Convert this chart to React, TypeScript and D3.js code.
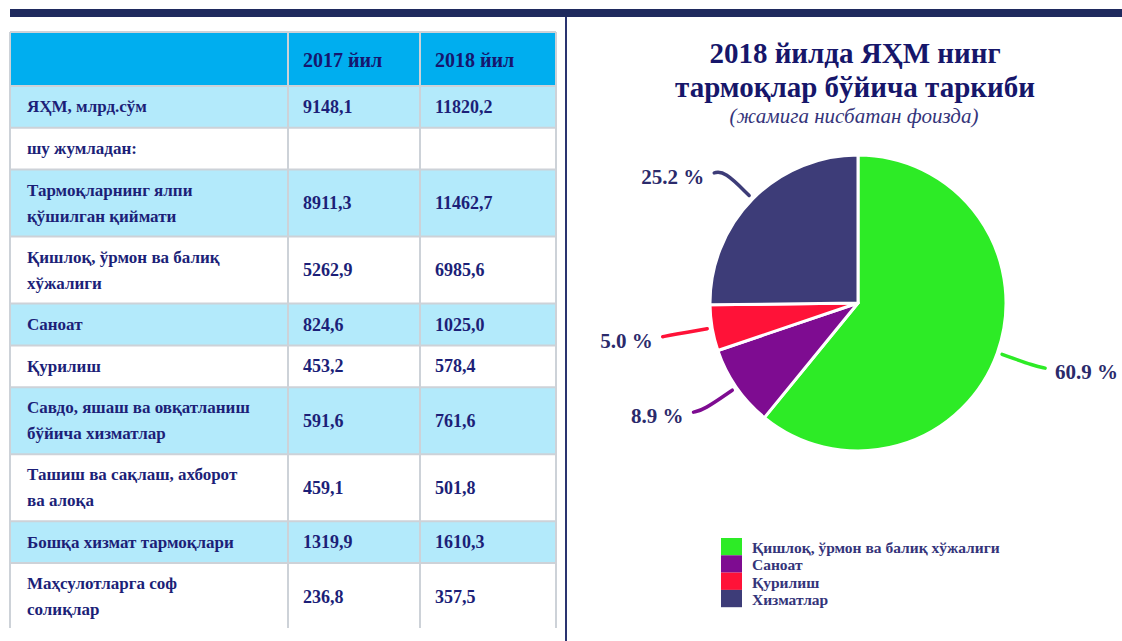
import React, { useEffect, useRef } from 'react';
import * as d3 from 'd3';

// table data
const headerCols = ['2017 йил', '2018 йил'];
const rowLabels = [
  ['ЯҲМ, млрд.сўм'],
  ['шу жумладан:'],
  ['Тармоқларнинг ялпи', 'қўшилган қиймати'],
  ['Қишлоқ, ўрмон ва балиқ', 'хўжалиги'],
  ['Саноат'],
  ['Қурилиш'],
  ['Савдо, яшаш ва овқатланиш', 'бўйича хизматлар'],
  ['Ташиш ва сақлаш, ахборот', 'ва алоқа'],
  ['Бошқа хизмат тармоқлари'],
  ['Маҳсулотларга соф', 'солиқлар'],
];
const values2017 = [9148.1, null, 8911.3, 5262.9, 824.6, 453.2, 591.6, 459.1, 1319.9, 236.8];
const values2018 = [11820.2, null, 11462.7, 6985.6, 1025.0, 578.4, 761.6, 501.8, 1610.3, 357.5];

// pie data
const sectorNames = ['Қишлоқ, ўрмон ва балиқ хўжалиги', 'Саноат', 'Қурилиш', 'Хизматлар'];
const sectorShares = [60.9, 8.9, 5.0, 25.2];
const sectorColors = ['#2DEB26', '#7E0C91', '#FF1238', '#3D3C78'];

const titleLines = ['2018 йилда ЯҲМ нинг', 'тармоқлар бўйича таркиби'];
const subtitle = '(жамига нисбатан фоизда)';

const SERIF = 'Liberation Serif, DejaVu Serif, serif';

export default function App() {
  const svgRef = useRef<SVGSVGElement>(null);

  useEffect(() => {
    if (!svgRef.current) return;
    const svg = d3.select(svgRef.current);
    svg.selectAll('*').remove();

    const width = 1122;
    const height = 641;

    svg.append('rect').attr('width', width).attr('height', height).attr('fill', '#fff');

    // top bar + divider
    svg.append('rect').attr('x', 10).attr('y', 9).attr('width', width - 10).attr('height', 8).attr('fill', '#1F2A5E');
    svg.append('line')
      .attr('x1', 566).attr('x2', 566).attr('y1', 17).attr('y2', height)
      .attr('stroke', '#2A3470').attr('stroke-width', 2);

    // ---- table ----
    const colX = [10, 288, 420, 556];
    const tableTop = 32;
    const headerH = 54;
    const lineH = 26;
    const rowH = rowLabels.map(l => (l.length > 1 ? 67 : 41.8));
    const rowY: number[] = [];
    let acc = tableTop + headerH;
    rowH.forEach(h => { rowY.push(acc); acc += h; });
    const tableBottom = Math.min(acc, 628);

    const fmt = (v: number | null) => (v == null ? '' : d3.format('.1f')(v).replace('.', ','));
    const textColor = '#1C1F78';

    const table = svg.append('g').style('font-family', SERIF);
    table.append('rect')
      .attr('x', colX[0]).attr('y', tableTop)
      .attr('width', colX[3] - colX[0]).attr('height', headerH)
      .attr('fill', '#00AEEF');

    table.selectAll('.row-bg')
      .data(rowLabels)
      .enter().append('rect')
      .attr('x', colX[0])
      .attr('y', (d, i) => rowY[i])
      .attr('width', colX[3] - colX[0])
      .attr('height', (d, i) => Math.min(rowH[i], tableBottom - rowY[i]))
      .attr('fill', (d, i) => (i % 2 === 0 ? '#B3EAFB' : '#FFFFFF'));

    // header labels
    table.selectAll('.hdr')
      .data(headerCols)
      .enter().append('text')
      .attr('x', (d, i) => colX[i + 1] + 15)
      .attr('y', tableTop + headerH / 2 + 1)
      .attr('dominant-baseline', 'central')
      .style('font-family', SERIF)
      .attr('font-weight', 'bold')
      .attr('font-size', '20px')
      .attr('fill', '#16166E')
      .text(d => d);

    // row labels
    rowLabels.forEach((lines, i) => {
      const cy = rowY[i] + rowH[i] / 2;
      lines.forEach((ln, j) => {
        table.append('text')
          .attr('x', colX[0] + 17)
          .attr('y', cy + (j - (lines.length - 1) / 2) * lineH)
          .attr('dominant-baseline', 'central')
          .style('font-family', SERIF)
          .attr('font-weight', 'bold')
          .attr('font-size', '17px')
          .attr('fill', textColor)
          .text(ln);
      });
      [values2017[i], values2018[i]].forEach((v, k) => {
        table.append('text')
          .attr('x', colX[k + 1] + 15)
          .attr('y', cy)
          .attr('dominant-baseline', 'central')
          .style('font-family', SERIF)
          .attr('font-weight', 'bold')
          .attr('font-size', '18px')
          .attr('fill', textColor)
          .text(fmt(v));
      });
    });

    // grid lines
    const borderColor = '#CDD2D8';
    const hLines = [tableTop, tableTop + headerH, ...rowY.slice(1)];
    table.selectAll('.hline')
      .data(hLines)
      .enter().append('line')
      .attr('x1', colX[0]).attr('x2', colX[3])
      .attr('y1', d => d).attr('y2', d => d)
      .attr('stroke', borderColor).attr('stroke-width', 2);
    table.selectAll('.vline')
      .data(colX)
      .enter().append('line')
      .attr('x1', d => d).attr('x2', d => d)
      .attr('y1', tableTop).attr('y2', tableBottom)
      .attr('stroke', borderColor).attr('stroke-width', 2);

    // ---- pie ----
    const cx = 858;
    const cy = 303;
    const r = 148;
    const titleColor = '#16166A';

    svg.selectAll('.title')
      .data(titleLines)
      .enter().append('text')
      .attr('x', 855)
      .attr('y', (d, i) => 63 + i * 34)
      .attr('text-anchor', 'middle')
      .style('font-family', SERIF)
      .attr('font-weight', 'bold')
      .attr('font-size', '29px')
      .attr('fill', titleColor)
      .text(d => d);
    svg.append('text')
      .attr('x', 854)
      .attr('y', 123)
      .attr('text-anchor', 'middle')
      .style('font-family', SERIF)
      .attr('font-style', 'italic')
      .attr('font-size', '21px')
      .attr('fill', '#34347A')
      .text(subtitle);

    const pieData = d3.pie<number>().sort(null).value(d => d)(sectorShares);
    const arc = d3.arc<d3.PieArcDatum<number>>().innerRadius(0).outerRadius(r);
    const pieG = svg.append('g').attr('transform', `translate(${cx},${cy})`);

    pieG.selectAll('.slice')
      .data(pieData)
      .enter().append('path')
      .attr('d', arc)
      .attr('fill', (d, i) => sectorColors[i])
      .attr('stroke', '#fff')
      .attr('stroke-width', 3)
      .attr('stroke-linejoin', 'round');

    // leader lines and labels
    const polar = (a: number, rad: number): [number, number] => [Math.sin(a) * rad, -Math.cos(a) * rad];
    const leader = d3.line().curve(d3.curveBasis);
    pieData.forEach((d, i) => {
      const a = (d.startAngle + d.endAngle) / 2;
      const side = Math.sin(a) > 0 ? 1 : -1;
      const p0 = polar(a, r + 5);
      const p1 = polar(a, r + 40);
      const p2: [number, number] = [p1[0] + side * 10, p1[1] + 2];
      pieG.append('path')
        .attr('d', leader([p0, p1, p2]))
        .attr('fill', 'none')
        .attr('stroke', sectorColors[i])
        .attr('stroke-width', 3.5)
        .attr('stroke-linecap', 'round');
      pieG.append('text')
        .attr('x', p2[0] + side * 10)
        .attr('y', p2[1] + 4)
        .attr('text-anchor', side > 0 ? 'start' : 'end')
        .attr('dominant-baseline', 'central')
        .style('font-family', SERIF)
        .attr('font-weight', 'bold')
        .attr('font-size', '21px')
        .attr('fill', '#2B2A6B')
        .text(`${d3.format('.1f')(d.data)} %`);
    });

    // legend
    const legend = svg.append('g').attr('transform', 'translate(721,538)');
    const legendH = 17.3;
    legend.selectAll('.sw')
      .data(sectorNames)
      .enter().append('rect')
      .attr('x', 0)
      .attr('y', (d, i) => i * legendH)
      .attr('width', 21)
      .attr('height', legendH)
      .attr('fill', (d, i) => sectorColors[i]);
    legend.selectAll('.lt')
      .data(sectorNames)
      .enter().append('text')
      .attr('x', 31)
      .attr('y', (d, i) => i * legendH + legendH / 2 + 1)
      .attr('dominant-baseline', 'central')
      .style('font-family', SERIF)
      .attr('font-weight', 'bold')
      .attr('font-size', '15.5px')
      .attr('fill', '#34347A')
      .text(d => d);
  }, []);

  return (
    <svg
      ref={svgRef}
      width={1122}
      height={641}
      viewBox="0 0 1122 641"
      style={{ position: 'absolute', left: 0, top: 0, display: 'block' }}
    />
  );
}
